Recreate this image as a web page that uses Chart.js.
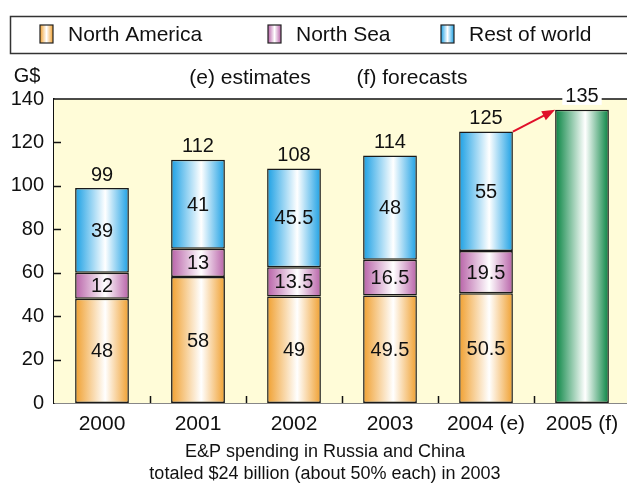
<!DOCTYPE html>
<html>
<head>
<meta charset="utf-8">
<script src="https://cdn.jsdelivr.net/npm/chart.js@4.4.1/dist/chart.umd.min.js"></script>
<style>
  html, body { margin: 0; padding: 0; background: #fff; overflow: hidden; }
  #wrap { width: 630px; height: 486px; }
</style>
</head>
<body>
<div id="wrap"><canvas id="chart" width="630" height="486"></canvas></div>
<script>
// E&P spending by region, G$
const years = ['2000', '2001', '2002', '2003', '2004 (e)', '2005 (f)'];
const northAmerica = [48, 58, 49, 49.5, 50.5, null];
const northSea = [12, 13, 13.5, 16.5, 19.5, null];
const restOfWorld = [39, 41, 45.5, 48, 55, null];
const forecast = [null, null, null, null, null, 135];
const yTicks = [0, 20, 40, 60, 80, 100, 120, 140];
const footnote = ['E&P spending in Russia and China', 'totaled $24 billion (about 50% each) in 2003'];

const FONT = '"Liberation Sans", Arial, sans-serif';
const BAR_PCT = 0.56;
const PLOT_BG = '#FFFCD8';
const INK = '#111';

const colors = {
    na: '#F0A030',
    ns: '#B862A8',
    row: '#1CA0E4',
    fc: '#078442'
};

// totals on top of each column
const totals = years.map((_, i) => {
    if (forecast[i] != null) return forecast[i];
    return northAmerica[i] + northSea[i] + restOfWorld[i];
});

function barHalf(chart) {
    const x = chart.scales.x;
    return x.width / years.length * BAR_PCT / 2;
}

// horizontal "cylinder" shading: solid at the edges, white in the middle
function shade(color) {
    return function(ctx) {
        const chart = ctx.chart;
        const x = chart.scales.x;
        if (!chart.chartArea || !x) return color;
        const cx = x.getPixelForValue(ctx.dataIndex);
        const half = barHalf(chart);
        const g = chart.ctx.createLinearGradient(cx - half, 0, cx + half, 0);
        g.addColorStop(0, color);
        g.addColorStop(0.56, '#ffffff');
        g.addColorStop(1, color);
        return g;
    };
}

function legendSwatch(c, x, y, w, h, color) {
    const g = c.createLinearGradient(x, 0, x + w, 0);
    g.addColorStop(0, color);
    g.addColorStop(0.5, '#ffffff');
    g.addColorStop(1, color);
    c.fillStyle = g;
    c.fillRect(x, y, w, h);
    c.strokeStyle = '#222';
    c.lineWidth = 1.2;
    c.strokeRect(x, y, w, h);
}

const plotBackground = {
    id: 'plotBackground',
    beforeDatasetsDraw(chart) {
        const { ctx, chartArea: a } = chart;
        ctx.save();
        ctx.fillStyle = PLOT_BG;
        ctx.fillRect(a.left, a.top, a.right - a.left, a.bottom - a.top);
        ctx.restore();
    }
};

const decorations = {
    id: 'decorations',
    afterDatasetsDraw(chart) {
        const { ctx, chartArea: a, scales } = chart;
        const x = scales.x, y = scales.y;
        const half = barHalf(chart);
        ctx.save();

        // frame: top line + inward tick marks
        ctx.strokeStyle = INK;
        ctx.lineWidth = 1.5;
        ctx.beginPath();
        ctx.moveTo(a.left, a.top);
        ctx.lineTo(a.right, a.top);
        yTicks.slice(1, -1).forEach(v => {
            const py = Math.round(y.getPixelForValue(v)) + 0.5;
            ctx.moveTo(a.left, py);
            ctx.lineTo(a.left + 7, py);
        });
        for (let i = 1; i < years.length; i++) {
            const px = Math.round((x.getPixelForValue(i - 1) + x.getPixelForValue(i)) / 2) + 0.5;
            ctx.moveTo(px, a.bottom);
            ctx.lineTo(px, a.bottom - 7);
        }
        ctx.stroke();

        // values inside the segments
        ctx.fillStyle = INK;
        ctx.font = '20px ' + FONT;
        ctx.textAlign = 'center';
        ctx.textBaseline = 'middle';
        [northAmerica, northSea, restOfWorld].forEach((series, s) => {
            const meta = chart.getDatasetMeta(s);
            series.forEach((v, i) => {
                if (v == null) return;
                const bar = meta.data[i];
                ctx.fillText(String(v), bar.x, (bar.y + bar.base) / 2 + 1);
            });
        });

        // totals above the columns
        totals.forEach((t, i) => {
            const px = x.getPixelForValue(i);
            const py = y.getPixelForValue(t) - 15;
            const txt = String(t);
            if (forecast[i] != null) {
                const w = ctx.measureText(txt).width;
                ctx.fillStyle = '#ffffff';
                ctx.fillRect(px - w / 2 - 3, py - 10, w + 6, 20);
                ctx.fillStyle = INK;
            }
            ctx.fillText(txt, px, py + 2);
        });

        // red arrow 2004 -> 2005
        const last = forecast.findIndex(v => v != null);
        const x0 = x.getPixelForValue(last - 1) + half, y0 = y.getPixelForValue(totals[last - 1]);
        const x1 = x.getPixelForValue(last) - half, y1 = y.getPixelForValue(totals[last]);
        const ang = Math.atan2(y1 - y0, x1 - x0);
        ctx.strokeStyle = '#E0102A';
        ctx.fillStyle = '#E0102A';
        ctx.lineWidth = 2;
        ctx.beginPath();
        ctx.moveTo(x0, y0);
        ctx.lineTo(x1 - 10 * Math.cos(ang), y1 - 10 * Math.sin(ang));
        ctx.stroke();
        ctx.beginPath();
        ctx.moveTo(x1, y1);
        ctx.lineTo(x1 - 13 * Math.cos(ang) + 5 * Math.sin(ang), y1 - 13 * Math.sin(ang) - 5 * Math.cos(ang));
        ctx.lineTo(x1 - 13 * Math.cos(ang) - 5 * Math.sin(ang), y1 - 13 * Math.sin(ang) + 5 * Math.cos(ang));
        ctx.closePath();
        ctx.fill();
        ctx.restore();
    },
    afterDraw(chart) {
        const ctx = chart.ctx;
        ctx.save();

        // legend box
        ctx.strokeStyle = '#333';
        ctx.lineWidth = 1.5;
        ctx.strokeRect(10.5, 16.5, 640, 37);
        ctx.font = '21px ' + FONT;
        ctx.fillStyle = INK;
        ctx.textAlign = 'left';
        ctx.textBaseline = 'middle';
        const items = [
            { label: chart.data.datasets[0].label, color: colors.na, x: 40 },
            { label: chart.data.datasets[1].label, color: colors.ns, x: 268 },
            { label: chart.data.datasets[2].label, color: colors.row, x: 441 }
        ];
        items.forEach(it => {
            legendSwatch(ctx, it.x, 25, 13, 18, it.color);
            ctx.fillStyle = INK;
            ctx.fillText(it.label, it.x + 28, 35);
        });

        // unit + notes
        ctx.font = '20px ' + FONT;
        ctx.textAlign = 'center';
        ctx.fillText('G$', 27, 76);
        ctx.font = '21px ' + FONT;
        ctx.fillText('(e) estimates', 250, 78);
        ctx.fillText('(f) forecasts', 412, 78);

        // footnote
        ctx.font = '18px ' + FONT;
        ctx.fillText(footnote[0], 325, 452);
        ctx.fillText(footnote[1], 325, 474);
        ctx.restore();
    }
};

const common = {
    borderColor: '#1a1a1a',
    borderWidth: 1.5,
    borderSkipped: false,
    barPercentage: BAR_PCT,
    categoryPercentage: 1
};

new Chart(document.getElementById('chart'), {
    type: 'bar',
    data: {
        labels: years,
        datasets: [
            { label: 'North America', data: northAmerica, backgroundColor: shade(colors.na), ...common },
            { label: 'North Sea', data: northSea, backgroundColor: shade(colors.ns), ...common },
            { label: 'Rest of world', data: restOfWorld, backgroundColor: shade(colors.row), ...common },
            { label: 'Forecast', data: forecast, backgroundColor: shade(colors.fc), ...common }
        ]
    },
    options: {
        responsive: false,
        animation: false,
        layout: { padding: { top: 99, left: 0, right: 0, bottom: 0 } },
        plugins: {
            legend: { display: false },
            tooltip: { enabled: false }
        },
        scales: {
            x: {
                stacked: true,
                grid: { display: false, drawTicks: false },
                border: { display: true, color: INK, width: 1.5 },
                ticks: { color: INK, font: { family: FONT, size: 21 }, padding: 9, maxRotation: 0 },
                afterFit(scale) { scale.height = 83; }
            },
            y: {
                stacked: true,
                min: 0,
                max: 140,
                grid: { display: false, drawTicks: false },
                border: { display: true, color: INK, width: 1.5 },
                ticks: {
                    color: INK,
                    font: { family: FONT, size: 20 },
                    padding: 10,
                    stepSize: 20,
                    callback: v => yTicks.includes(v) ? String(v) : ''
                },
                afterFit(scale) { scale.width = 54; }
            }
        }
    },
    plugins: [plotBackground, decorations]
});
</script>
</body>
</html>
